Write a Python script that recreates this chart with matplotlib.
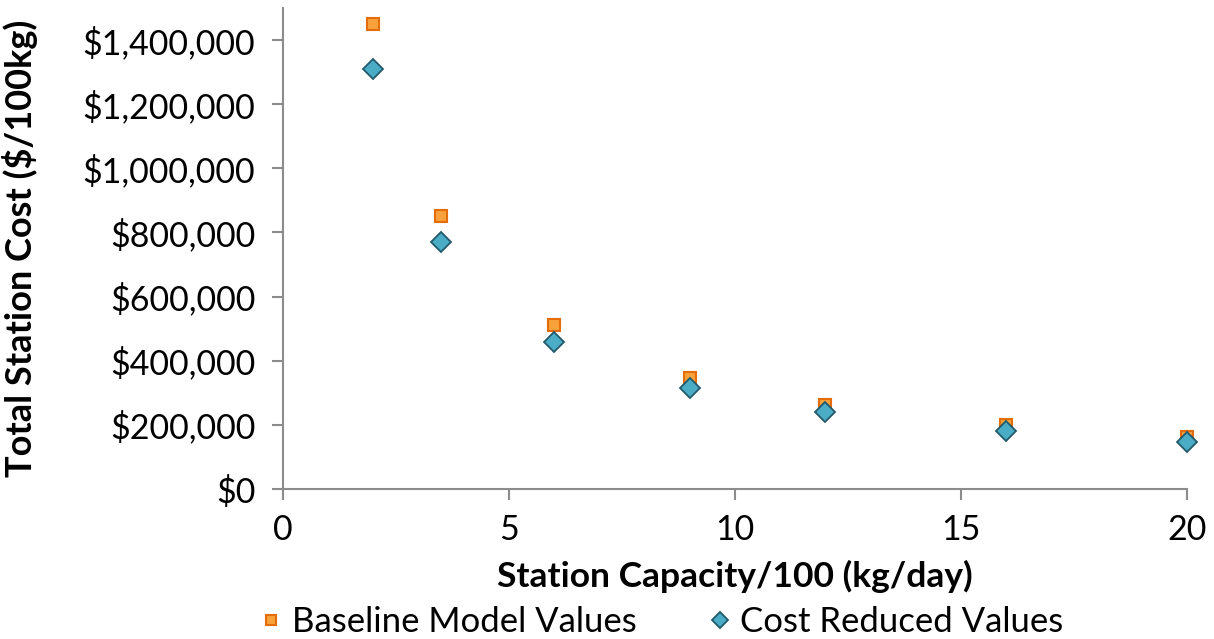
import matplotlib
matplotlib.use("Agg")
import matplotlib.pyplot as plt
from matplotlib.ticker import FuncFormatter, MultipleLocator

plt.rcParams['font.family'] = ['Lato', 'DejaVu Sans']

capacity = [2, 3.5, 6, 9, 12, 16, 20]
baseline_cost = [1450000, 850000, 510000, 345000, 262000, 200000, 162000]
reduced_cost = [1310000, 770000, 460000, 315000, 240000, 180000, 146000]

fig = plt.figure(figsize=(12.14, 6.39), dpi=100)
ax = fig.add_axes([0.2331, 0.2347, 0.9778 - 0.2331, 0.9875 - 0.2347])

ax.plot(capacity, baseline_cost, linestyle='none', marker='s', markersize=8.5,
        markerfacecolor='#F9A23B', markeredgecolor='#E46C0A', markeredgewidth=1.5,
        label='Baseline Model Values', clip_on=False, zorder=3)
ax.plot(capacity, reduced_cost, linestyle='none', marker='D', markersize=10,
        markerfacecolor='#4BACC6', markeredgecolor='#235A6B', markeredgewidth=1.3,
        label='Cost Reduced Values', clip_on=False, zorder=4)

ax.set_xlim(0, 20)
ax.set_ylim(0, 1500000)
ax.xaxis.set_major_locator(MultipleLocator(5))
ax.yaxis.set_major_locator(MultipleLocator(200000))
ax.yaxis.set_major_formatter(FuncFormatter(lambda v, p: f"${v:,.0f}"))

for side in ('top', 'right'):
    ax.spines[side].set_visible(False)
for side in ('left', 'bottom'):
    ax.spines[side].set_color('#8c8c8c')
    ax.spines[side].set_linewidth(1.5)
ax.tick_params(axis='both', direction='out', length=8, width=1.5, color='#8c8c8c',
               labelsize=24.5, labelcolor='black')
ax.tick_params(axis='y', pad=12)
ax.tick_params(axis='x', pad=10)

ax.set_xlabel('Station Capacity/100 (kg/day)', fontsize=25.5, fontweight='bold', labelpad=10)
ax.set_ylabel('Total Station Cost ($/100kg)', fontsize=26, fontweight='bold', labelpad=32)

fig.legend(loc='lower center', bbox_to_anchor=(0.541, -0.047), ncol=2, frameon=False,
           fontsize=25, handletextpad=0.0, columnspacing=1.8, handlelength=1.2,
           markerscale=0.85)

fig.savefig('out.png', dpi=100)
